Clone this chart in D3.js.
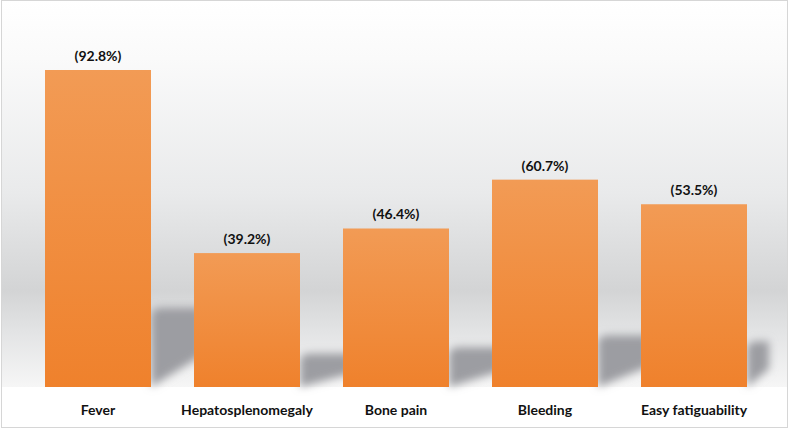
<!DOCTYPE html>
<html>
<head>
<meta charset="utf-8">
<script src="https://cdn.jsdelivr.net/npm/d3@7"></script>
<style>
  html, body { margin: 0; padding: 0; background: #fff; }
  svg { display: block; }
  text { font-family: Lato, "Open Sans", sans-serif; font-weight: 700; fill: #111; }
</style>
</head>
<body>
<svg width="789" height="430"></svg>
<script>
const categories = ['Fever', 'Hepatosplenomegaly', 'Bone pain', 'Bleeding', 'Easy fatiguability'];
const values = [92.8, 39.2, 46.4, 60.7, 53.5];
const valueLabels = ['(92.8%)', '(39.2%)', '(46.4%)', '(60.7%)', '(53.5%)'];

const width = 789;
const height = 430;
const baseline = 387;

const svg = d3.select('svg');
const defs = svg.append('defs');

// background wall gradient
const bg = defs.append('linearGradient')
  .attr('id', 'wall')
  .attr('gradientUnits', 'userSpaceOnUse')
  .attr('x1', 0).attr('y1', 0).attr('x2', 0).attr('y2', baseline);
[[0, '#ffffff'], [0.15, '#fafafa'], [0.5, '#e9eaeb'], [0.75, '#d3d4d5'], [0.86, '#e3e4e5'], [1, '#f6f6f6']]
  .forEach(([o, c]) => bg.append('stop').attr('offset', o).attr('stop-color', c));

const barGrad = defs.append('linearGradient')
  .attr('id', 'bar')
  .attr('x1', 0).attr('y1', 0).attr('x2', 0).attr('y2', 1);
barGrad.append('stop').attr('offset', 0).attr('stop-color', '#f29b55');
barGrad.append('stop').attr('offset', 1).attr('stop-color', '#ef812c');

defs.append('filter').attr('id', 'blur')
  .attr('x', '-20%').attr('y', '-20%').attr('width', '140%').attr('height', '140%')
  .append('feGaussianBlur').attr('stdDeviation', 4);

svg.append('rect')
  .attr('x', 1).attr('y', 1).attr('width', width - 3).attr('height', baseline - 1)
  .attr('fill', 'url(#wall)');

svg.append('rect')
  .attr('x', 1.5).attr('y', 0.5).attr('width', width - 3).attr('height', height - 3)
  .attr('fill', 'none')
  .attr('stroke', '#d6d6d6');

const x = d3.scaleBand()
  .domain(categories)
  .range([45, 747])
  .paddingInner(0.2886)
  .paddingOuter(0);

const y = d3.scaleLinear()
  .domain([0, 100])
  .range([baseline, baseline - 341.6]);

const data = categories.map((c, i) => ({ name: c, value: values[i], label: valueLabels[i] }));
const gap = x.step() - x.bandwidth();

// shadows cast behind each bar
const shadowG = svg.append('g').attr('filter', 'url(#blur)');
shadowG.selectAll('path')
  .data(data)
  .join('path')
  .attr('d', (d, i) => {
    const x0 = x(d.name) + x.bandwidth();
    const w = i === data.length - 1 ? 22 : gap + 8;
    const h = (baseline - y(d.value)) * 0.25;
    const top = baseline - h;
    return `M${x0},${top + 8} Q${x0},${top} ${x0 + 10},${top} L${x0 + w},${top} L${x0 + w},${baseline - h * 0.4} L${x0},${baseline} Z`;
  })
  .attr('fill', '#9c9da2');

svg.append('g')
  .selectAll('rect')
  .data(data)
  .join('rect')
  .attr('x', d => x(d.name))
  .attr('y', d => y(d.value))
  .attr('width', x.bandwidth())
  .attr('height', d => baseline - y(d.value))
  .attr('fill', 'url(#bar)');

svg.append('g')
  .selectAll('text')
  .data(data)
  .join('text')
  .attr('x', d => x(d.name) + x.bandwidth() / 2)
  .attr('y', d => y(d.value) - 9)
  .attr('text-anchor', 'middle')
  .style('font-size', '14px')
  .text(d => d.label);

svg.append('g')
  .selectAll('text')
  .data(data)
  .join('text')
  .attr('x', d => x(d.name) + x.bandwidth() / 2)
  .attr('y', 415)
  .attr('text-anchor', 'middle')
  .style('font-size', '14px')
  .text(d => d.name);
</script>
</body>
</html>
